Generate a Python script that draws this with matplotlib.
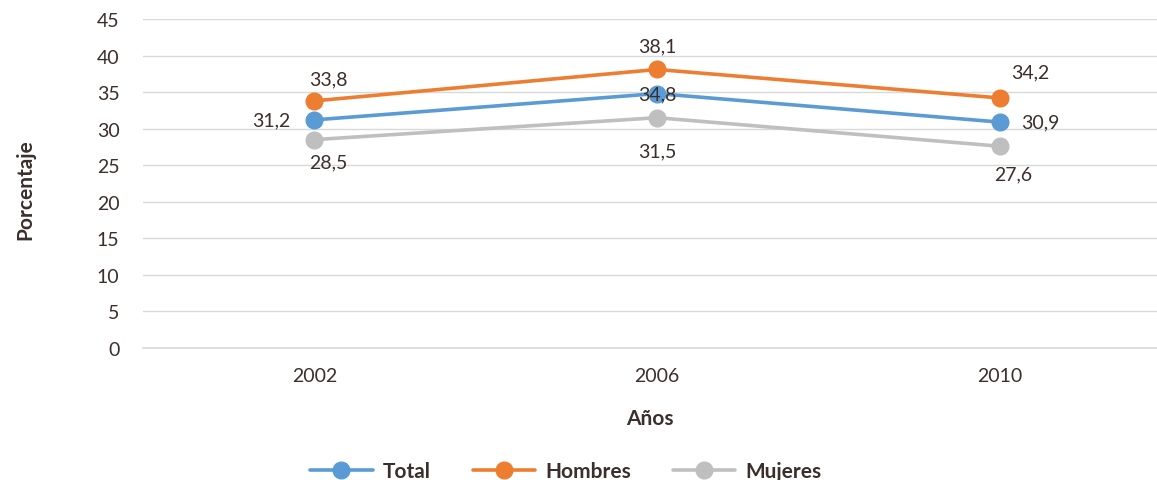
import numpy as np
import matplotlib.pyplot as plt

plt.rcParams['font.family'] = ['Lato', 'DejaVu Sans']

anios = ['2002', '2006', '2010']
total = [31.2, 34.8, 30.9]
hombres = [33.8, 38.1, 34.2]
mujeres = [28.5, 31.5, 27.6]

txt = '#3a2f2a'
fig = plt.figure(figsize=(11.57, 4.81), dpi=100)
ax = fig.add_axes([143/1157, 132/481, 1028/1157, 329/481])

x = np.arange(len(anios))
series = [('Total', total, '#5b9bd5'), ('Hombres', hombres, '#ed7d31'), ('Mujeres', mujeres, '#bfbfbf')]
for name, vals, col in series:
    ax.plot(x, vals, color=col, lw=2.6, marker='o', ms=12, label=name, solid_capstyle='round')

# etiquetas de datos (offset en puntos)
offs = {
    'Total': [(-31, 0), (0, 0), (29, 0)],
    'Hombres': [(10, 16), (0, 17), (22, 19)],
    'Mujeres': [(10, -16), (0, -24), (10, -20)],
}
for name, vals, col in series:
    for i, v in enumerate(vals):
        dx, dy = offs[name][i]
        ax.annotate(f'{v:.1f}'.replace('.', ','), (x[i], v), xytext=(dx, dy),
                    textcoords='offset points', ha='center', va='center',
                    fontsize=14, color=txt)

ax.set_xlim(-0.5, 2.5)
ax.set_ylim(0, 45)
ax.set_yticks(range(0, 46, 5))
ax.set_xticks(x)
ax.set_xticklabels(anios)
ax.grid(axis='y', color='#d9d9d9', lw=1)
ax.axhline(0, color='#d9d9d9', lw=1.2, clip_on=False, zorder=0)
ax.set_axisbelow(True)
for s in ax.spines.values():
    s.set_visible(False)
ax.tick_params(length=0, labelsize=14, colors=txt)
ax.tick_params(axis='y', pad=17)
ax.tick_params(axis='x', pad=14)

fig.text(25/1157, 1 - 190/481, 'Porcentaje', rotation=90, ha='center', va='center',
         fontsize=15, fontweight='bold', color=txt)
fig.text(650/1157, 1 - 419/481, 'Años', ha='center', va='center',
         fontsize=15, fontweight='bold', color=txt)

leg = fig.legend(loc='center', bbox_to_anchor=(566/1157, 1 - 472/481), ncol=3,
                 frameon=False, handlelength=3.0, columnspacing=2.0, handletextpad=0.5,
                 prop={'size': 15, 'weight': 'bold'})
for t in leg.get_texts():
    t.set_color(txt)

fig.savefig('out.png', dpi=100)
